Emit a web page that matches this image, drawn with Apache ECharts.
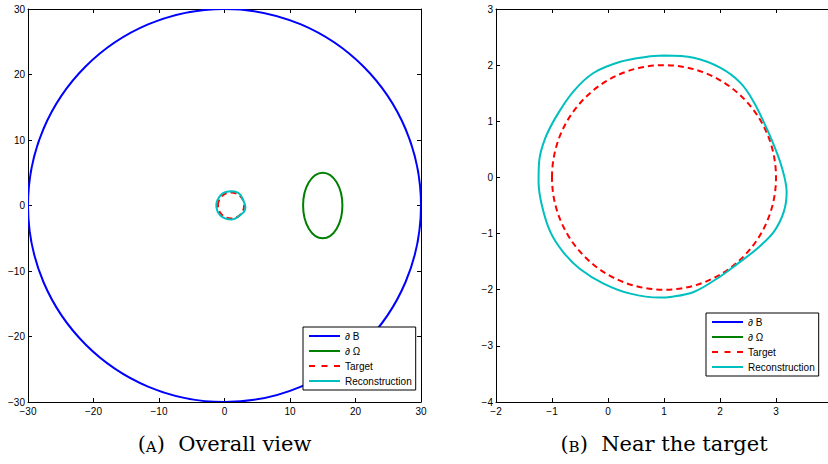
<!DOCTYPE html>
<html><head><meta charset="utf-8">
<script src="https://cdn.jsdelivr.net/npm/echarts@6/dist/echarts.min.js"></script>
<style>html,body{margin:0;padding:0;background:#fff}#c{width:828px;height:464px}</style>
</head><body><div id="c"></div>
<script>
// ---- data ----
const seriesNames = ['\u2202 B', '\u2202 \u03a9', 'Target', 'Reconstruction'];
const seriesColors = ['#0000ff', '#008000', '#ff0000', '#00bfbf'];
// closed curves given as ellipses: [centre x, centre y, semi-axis x, semi-axis y]
const boundaryB = [0, 0, 30, 30];
const boundaryOmega = [15, 0, 3, 5];
const targetShape = [1, 0, 2, 2];
// reconstruction, traced counter-clockwise from the top
const reconX = [1.00, 0.70, 0.22, -0.26, -0.62, -0.91, -1.12, -1.23, -1.24, -1.18, -1.03, -0.80, -0.50, -0.08, 0.40, 0.93, 1.11, 1.53, 1.95, 2.31, 2.66, 2.96, 3.14, 3.19, 3.11, 2.96, 2.78, 2.60, 2.37, 2.01, 1.53, 1.00];
const reconY = [2.17, 2.15, 2.06, 1.86, 1.53, 1.11, 0.70, 0.28, -0.08, -0.50, -0.97, -1.33, -1.63, -1.89, -2.07, -2.14, -2.13, -2.04, -1.80, -1.54, -1.27, -0.97, -0.61, -0.26, 0.16, 0.58, 0.99, 1.35, 1.68, 1.95, 2.13, 2.17];
const ticksAx = [-30, -20, -10, 0, 10, 20, 30];
const ticksAy = [-30, -20, -10, 0, 10, 20, 30];
const ticksBx = [-2, -1, 0, 1, 2, 3, 4];
const ticksBy = [-4, -3, -2, -1, 0, 1, 2, 3];
const captionLetters = ['A', 'B'];
const captionTexts = ['Overall view', 'Near the target'];

// ---- layout ----
const grids = [
  {left: 28, top: 9, width: 393, height: 393, outerBoundsMode: 'none'},
  {left: 496, top: 9, width: 336, height: 393, outerBoundsMode: 'none'}
];
const LW = 2;
const font = 'Liberation Sans, Arial, Helvetica, sans-serif';

function axisPair(ticks, gridIndex, isX, showMax) {
  const base = {
    type: 'value', gridIndex: gridIndex,
    min: ticks[0], max: ticks[ticks.length - 1], interval: ticks[1] - ticks[0],
    axisLine: {show: true, onZero: false, lineStyle: {color: '#000', width: 1}},
    axisTick: {show: true, inside: true, length: 4, lineStyle: {color: '#000', width: 1}},
    splitLine: {show: false}
  };
  return [
    Object.assign({}, base, {
      position: isX ? 'bottom' : 'left',
      axisLabel: {show: true, margin: isX ? 4 : 3, fontSize: 10, fontFamily: font, color: '#000',
        showMinLabel: true, showMaxLabel: showMax,
        formatter: v => String(v).replace('-', '\u2212')}
    }),
    Object.assign({}, base, {position: isX ? 'top' : 'right', axisLabel: {show: false}})
  ];
}

function ellipseSeries(name, shape, color, dash, ai) {
  return {
    type: 'custom', name: name, xAxisIndex: ai, yAxisIndex: ai, clip: true, silent: true,
    itemStyle: {color: color},
    data: [shape],
    renderItem: function (params, api) {
      const c = api.coord([api.value(0), api.value(1)]);
      const s = api.size([api.value(2), api.value(3)]);
      return {
        type: 'ellipse',
        shape: {cx: c[0], cy: c[1], rx: s[0], ry: s[1]},
        style: {fill: 'none', stroke: color, lineWidth: LW, lineDash: dash}
      };
    }
  };
}

function seriesFor(ai) {
  return [
    ellipseSeries(seriesNames[0], boundaryB, seriesColors[0], null, ai),
    ellipseSeries(seriesNames[1], boundaryOmega, seriesColors[1], null, ai),
    ellipseSeries(seriesNames[2], targetShape, seriesColors[2], [6, 4], ai),
    {
      type: 'line', name: seriesNames[3], xAxisIndex: ai, yAxisIndex: ai,
      data: reconX.map((x, i) => [x, reconY[i]]),
      smooth: 0.35, showSymbol: false, symbol: 'none', clip: true, silent: true,
      lineStyle: {color: seriesColors[3], width: LW},
      itemStyle: {color: seriesColors[3]}
    }
  ];
}

const solidIcon = 'path://M0,0H31V2H0Z';
const dashIcon = 'path://M0,0H6V2H0Z M12.5,0H18.5V2H12.5Z M25,0H31V2H25Z';
const legendData = seriesNames.map((n, i) => ({
  name: n, icon: i === 2 ? dashIcon : solidIcon, itemStyle: {color: seriesColors[i], borderWidth: 0}
}));
function legendAt(left, top) {
  return {
    orient: 'vertical', left: left, top: top, data: legendData,
    itemWidth: 31, itemHeight: 10, itemGap: 5, padding: [4, 4, 4, 6],
    borderColor: '#000', borderWidth: 1, backgroundColor: '#fff',
    selectedMode: false,
    textStyle: {fontSize: 10, fontFamily: font, color: '#000'}
  };
}

const captionGraphics = captionLetters.map((L, i) => ({
  type: 'text',
  x: [224.5, 664][i],
  y: 444,
  style: {
    text: '({s|' + L + '})  ' + captionTexts[i],
    fontFamily: 'DejaVu Serif, serif', fontSize: 21, fill: '#000',
    align: 'center', verticalAlign: 'middle',
    rich: {s: {fontFamily: 'DejaVu Serif, serif', fontSize: 15, verticalAlign: 'bottom'}}
  }
}));

const chart = echarts.init(document.getElementById('c'), null, {renderer: 'svg'});
chart.setOption({
  animation: false,
  backgroundColor: '#fff',
  grid: grids,
  xAxis: axisPair(ticksAx, 0, true, true).concat(axisPair(ticksBx, 1, true, false)),
  yAxis: axisPair(ticksAy, 0, false, true).concat(axisPair(ticksBy, 1, false, true)),
  legend: [legendAt(303, 327), legendAt(706, 313)],
  series: seriesFor(0).concat(seriesFor(2)),
  graphic: captionGraphics
});
</script>
</body></html>
